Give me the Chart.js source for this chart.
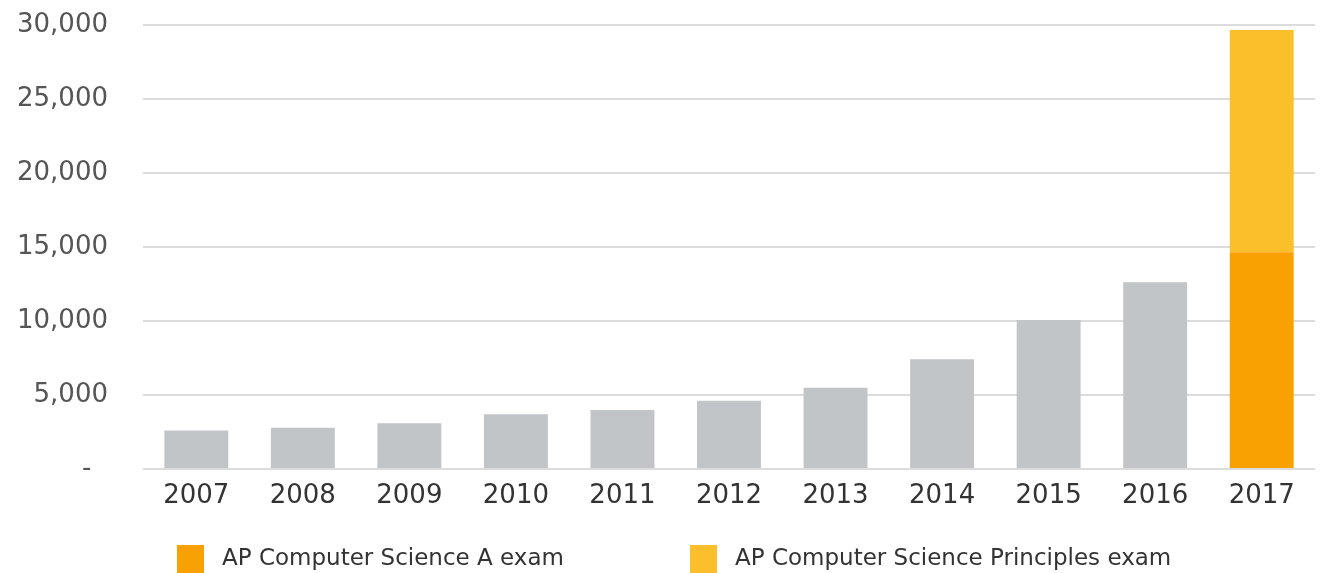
<!DOCTYPE html>
<html>
<head>
<meta charset="utf-8">
<script src="https://cdn.jsdelivr.net/npm/chart.js@4"></script>
<style>
  html, body { margin: 0; padding: 0; background: #fff; }
  #wrap { position: relative; width: 1324px; height: 573px; overflow: hidden; }
  #legend { position: absolute; left: 0; top: 545px; height: 28px; width: 1324px; }
  .item { position: absolute; top: 0; display: flex; align-items: flex-start; white-space: nowrap; }
  .box { width: 27px; height: 28px; flex: none; }
  .label { font-family: 'DejaVu Sans', sans-serif; font-size: 23px; color: #333; margin-left: 18px; line-height: 24px; }
</style>
</head>
<body>
<div id="wrap">
  <canvas id="apChart" width="1324" height="573"></canvas>
  <div id="legend"></div>
</div>
<script>
// data
const years = ['2007', '2008', '2009', '2010', '2011', '2012', '2013', '2014', '2015', '2016', '2017'];
const csaExams = [2600, 2790, 3090, 3700, 3990, 4610, 5490, 7410, 10070, 12610, 14640];
const cspExams = [null, null, null, null, null, null, null, null, null, null, 15020];
const seriesNames = ['AP Computer Science A exam', 'AP Computer Science Principles exam'];
const yTicks = [0, 5000, 10000, 15000, 20000, 25000, 30000];

const GRAY = '#c1c5c8';
const ORANGE = '#f9a102';
const YELLOW = '#fbbf2b';
const legendX = [177, 690];

// earlier years are drawn grey, only 2017 gets the series colour
const csaColors = years.map((y, i) => (i === years.length - 1 ? ORANGE : GRAY));

const ctx = document.getElementById('apChart').getContext('2d');

const config = {
  type: 'bar',
  data: {
    labels: years,
    datasets: [
      {
        label: seriesNames[0],
        data: csaExams,
        backgroundColor: csaColors,
        legendColor: ORANGE,
        borderWidth: 0,
        categoryPercentage: 1,
        barPercentage: 0.6,
      },
      {
        label: seriesNames[1],
        data: cspExams,
        backgroundColor: YELLOW,
        legendColor: YELLOW,
        borderWidth: 0,
        categoryPercentage: 1,
        barPercentage: 0.6,
      },
    ],
  },
  options: {
    responsive: false,
    animation: false,
    layout: {
      padding: { top: 25, right: 9, bottom: 0, left: 0 },
    },
    scales: {
      x: {
        stacked: true,
        grid: { display: false, drawTicks: false },
        border: { display: false },
        ticks: {
          color: '#333',
          padding: 12,
          maxRotation: 0,
          font: { family: 'DejaVu Sans', size: 26 },
        },
        afterFit: (scale) => {
          scale.height = 104;
        },
      },
      y: {
        stacked: true,
        min: 0,
        max: 30000,
        afterBuildTicks: (scale) => {
          scale.ticks = yTicks.map((v) => ({ value: v }));
        },
        grid: { color: '#dcdcdc', lineWidth: 2, drawTicks: false },
        border: { display: false },
        ticks: {
          color: '#555',
          padding: 35,
          font: { family: 'DejaVu Sans', size: 26 },
          callback: (value) => (value === 0 ? '-  ' : value.toLocaleString('en-US')),
        },
        afterFit: (scale) => {
          scale.width = 143;
          // don't let the label padding push the plot area down
          scale.paddingTop = 0;
          scale.paddingBottom = 0;
        },
      },
    },
    plugins: {
      legend: { display: false },
      tooltip: { enabled: false },
    },
  },
};

const chart = new Chart(ctx, config);

// html legend built from the datasets
const legendEl = document.getElementById('legend');
chart.data.datasets.forEach((ds, i) => {
  const item = document.createElement('div');
  item.className = 'item';
  item.style.left = legendX[i] + 'px';
  const box = document.createElement('div');
  box.className = 'box';
  box.style.background = ds.legendColor;
  const label = document.createElement('span');
  label.className = 'label';
  label.textContent = ds.label;
  item.appendChild(box);
  item.appendChild(label);
  legendEl.appendChild(item);
});
</script>
</body>
</html>
